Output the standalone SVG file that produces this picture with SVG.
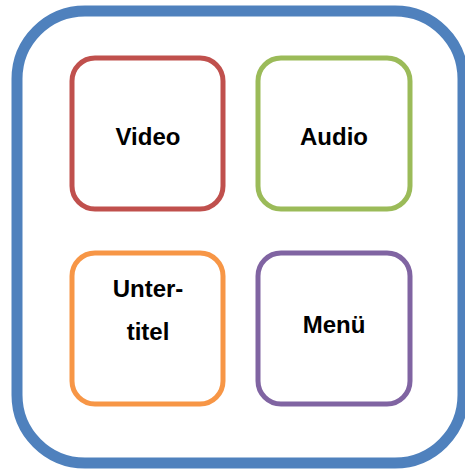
<svg xmlns="http://www.w3.org/2000/svg" width="465" height="470" viewBox="0 0 465 470">
<style>
.box{fill:#fff;stroke-width:5}
.t{font-family:"Liberation Sans",Arial,sans-serif;font-weight:bold;font-size:24px;fill:#000;text-anchor:middle}
</style>
<rect x="0" y="0" width="465" height="470" fill="#fff"/>
<g id="container">
<rect x="17" y="11" width="446" height="452" rx="68" ry="68" fill="#fff" stroke="#4F81BD" stroke-width="11"/>
</g>
<g id="video">
<rect class="box" x="72" y="58" width="151" height="151" rx="23" stroke="#C0504D"/>
<text class="t" x="148" y="145">Video</text>
</g>
<g id="audio">
<rect class="box" x="258" y="58" width="152" height="151" rx="23" stroke="#9BBB59"/>
<text class="t" x="334" y="145">Audio</text>
</g>
<g id="untertitel">
<rect class="box" x="72" y="253" width="151" height="151" rx="23" stroke="#F79646"/>
<text class="t" x="148" y="297">Unter-</text>
<text class="t" x="148" y="340">titel</text>
</g>
<g id="menue">
<rect class="box" x="258" y="253" width="152" height="151" rx="23" stroke="#8064A2"/>
<text class="t" x="334" y="333">Menü</text>
</g>
<g id="connectors"></g>
</svg>
